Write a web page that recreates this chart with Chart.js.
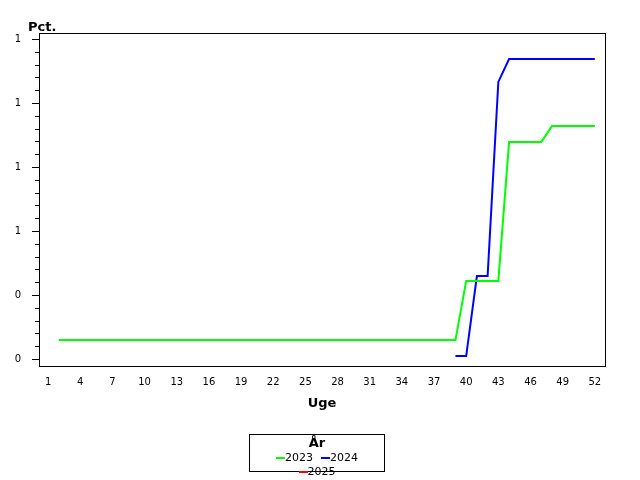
<!DOCTYPE html>
<html><head><meta charset="utf-8">
<script src="https://cdn.jsdelivr.net/npm/chart.js@4/dist/chart.umd.min.js"></script>
<style>body{margin:0;background:#fff}#w{position:relative;width:640px;height:480px}
#lg{position:absolute;left:249px;top:434px;width:136px;height:38px;border:1px solid #000;box-sizing:border-box;font-family:"DejaVu Sans";font-size:11px;text-align:center}
#lg b{display:block;font-size:13px;margin-top:0px}
.it{display:inline-block;margin:1px 4px 0 4px}.sw{display:inline-block;width:9px;height:2px;vertical-align:middle;margin-right:0px}</style>
</head><body><div id="w"><canvas id="c" width="640" height="480"></canvas>
<div id="lg"><b>År</b><span class="it"><span class="sw" style="background:#00ff00"></span>2023</span><span class="it"><span class="sw" style="background:#0000ff"></span>2024</span><span class="it"><span class="sw" style="background:#ff0000"></span>2025</span></div></div>
<script>
const weeks2023 = [2,3,4,5,6,7,8,9,10,11,12,13,14,15,16,17,18,19,20,21,22,23,24,25,26,27,28,29,30,31,32,33,34,35,36,37,38,39,40,41,42,43,44,45,46,47,48,49,50,51,52];
const values2023 = [0.259,0.259,0.259,0.259,0.259,0.259,0.259,0.259,0.259,0.259,0.259,0.259,0.259,0.259,0.259,0.259,0.259,0.259,0.259,0.259,0.259,0.259,0.259,0.259,0.259,0.259,0.259,0.259,0.259,0.259,0.259,0.259,0.259,0.259,0.259,0.259,0.259,0.259,0.444,0.444,0.444,0.444,0.878,0.878,0.878,0.878,0.928,0.928,0.928,0.928,0.928];
const weeks2024 = [39,40,41,42,43,44,45,46,47,48,49,50,51,52];
const values2024 = [0.209,0.209,0.459,0.459,1.066,1.1375,1.1375,1.1375,1.1375,1.1375,1.1375,1.1375,1.1375,1.1375];
const xTicks = [1,4,7,10,13,16,19,22,25,28,31,34,37,40,43,46,49,52];
const yTicks = [0.2,0.4,0.6,0.8,1.0,1.2];
const F={family:"DejaVu Sans",size:10};
const deco={id:'deco',afterDraw(ch){const c=ch.ctx,a=ch.chartArea,y=ch.scales.y;c.save();c.strokeStyle='#000';c.lineWidth=1;
c.strokeRect(a.left+0.5,a.top+0.5,a.right-a.left,a.bottom-a.top);
for(let v=0.2;v<1.21;v+=0.04){const p=Math.round(y.getPixelForValue(v))+0.5;const maj=Math.abs((v/0.2)-Math.round(v/0.2))<0.01;c.beginPath();c.moveTo(a.left,p);c.lineTo(a.left-(maj?7:4),p);c.stroke();}
c.fillStyle='#000';c.font='bold 13px "DejaVu Sans"';c.fillText('Pct.',28,31);c.textAlign='center';c.fillText('Uge',(a.left+a.right)/2,407);c.restore();}};
new Chart(document.getElementById('c'),{type:'line',data:{datasets:[
{label:'2023',data:weeks2023.map((w,i)=>({x:w,y:values2023[i]})),borderColor:'#00ff00',borderWidth:2,pointRadius:0,tension:0},
{label:'2024',data:weeks2024.map((w,i)=>({x:w,y:values2024[i]})),borderColor:'#0000ff',borderWidth:2,pointRadius:0,tension:0},
{label:'2025',data:[],borderColor:'#ff0000'}]},
options:{responsive:false,animation:false,layout:{padding:{left:0,top:33,right:35,bottom:0}},
plugins:{legend:{display:false},tooltip:{enabled:false}},
scales:{x:{type:'linear',min:0.15,max:52.95,afterBuildTicks(s){s.ticks=xTicks.map(v=>({value:v}));},
afterFit(s){s.height=114;},grid:{display:false,drawTicks:true},border:{display:false},ticks:{color:'#000',font:F,maxRotation:0,autoSkip:false,padding:2}},
y:{min:0.178,max:1.219,afterBuildTicks(s){s.ticks=yTicks.map(v=>({value:v}));},afterFit(s){s.width=39;},
grid:{display:false},border:{display:false},ticks:{color:'#000',font:F,padding:10,callback:v=>String(Math.round(v))}}}},
plugins:[deco]});
</script></body></html>
